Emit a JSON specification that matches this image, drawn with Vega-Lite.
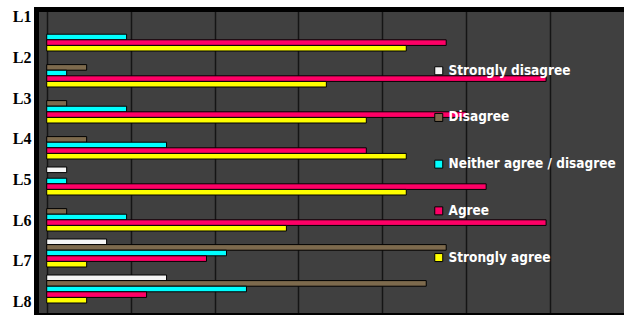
{
  "$schema": "https://vega.github.io/schema/vega-lite/v6.json",
  "width": 588,
  "height": 306,
  "autosize": {"type": "none"},
  "padding": {"left": 36, "top": 9, "right": 0, "bottom": 0},
  "background": "white",
  "config": {"view": {"fill": "#404040", "stroke": null}},
  "data": {
    "values": [
      {"item": "L1", "response": "Neither agree / disagree", "count": 4},
      {"item": "L1", "response": "Agree", "count": 20},
      {"item": "L1", "response": "Strongly agree", "count": 18},
      {"item": "L2", "response": "Disagree", "count": 2},
      {"item": "L2", "response": "Neither agree / disagree", "count": 1},
      {"item": "L2", "response": "Agree", "count": 25},
      {"item": "L2", "response": "Strongly agree", "count": 14},
      {"item": "L3", "response": "Disagree", "count": 1},
      {"item": "L3", "response": "Neither agree / disagree", "count": 4},
      {"item": "L3", "response": "Agree", "count": 21},
      {"item": "L3", "response": "Strongly agree", "count": 16},
      {"item": "L4", "response": "Disagree", "count": 2},
      {"item": "L4", "response": "Neither agree / disagree", "count": 6},
      {"item": "L4", "response": "Agree", "count": 16},
      {"item": "L4", "response": "Strongly agree", "count": 18},
      {"item": "L5", "response": "Strongly disagree", "count": 1},
      {"item": "L5", "response": "Neither agree / disagree", "count": 1},
      {"item": "L5", "response": "Agree", "count": 22},
      {"item": "L5", "response": "Strongly agree", "count": 18},
      {"item": "L6", "response": "Disagree", "count": 1},
      {"item": "L6", "response": "Neither agree / disagree", "count": 4},
      {"item": "L6", "response": "Agree", "count": 25},
      {"item": "L6", "response": "Strongly agree", "count": 12},
      {"item": "L7", "response": "Strongly disagree", "count": 3},
      {"item": "L7", "response": "Disagree", "count": 20},
      {"item": "L7", "response": "Neither agree / disagree", "count": 9},
      {"item": "L7", "response": "Agree", "count": 8},
      {"item": "L7", "response": "Strongly agree", "count": 2},
      {"item": "L8", "response": "Strongly disagree", "count": 6},
      {"item": "L8", "response": "Disagree", "count": 19},
      {"item": "L8", "response": "Neither agree / disagree", "count": 10},
      {"item": "L8", "response": "Agree", "count": 5},
      {"item": "L8", "response": "Strongly agree", "count": 2}
    ]
  },
  "layer": [
    {
      "mark": {"type": "bar", "stroke": "black", "strokeWidth": 1},
      "encoding": {
        "y": {
          "field": "item",
          "type": "nominal",
          "scale": {"type": "band", "domain": ["L1", "L2", "L3", "L4", "L5", "L6", "L7", "L8"], "paddingInner": 0, "paddingOuter": 0.25, "align": 0.556},
          "axis": null
        },
        "yOffset": {
          "field": "response",
          "type": "nominal",
          "scale": {"domain": ["Strongly disagree", "Disagree", "Neither agree / disagree", "Agree", "Strongly agree"], "paddingInner": 0, "paddingOuter": 0.714}
        },
        "x": {
          "field": "count",
          "type": "quantitative",
          "scale": {"domain": [-0.536, 28.9], "nice": false, "zero": false},
          "axis": {
            "orient": "top",
            "values": [0, 4.2, 8.4, 12.6, 16.8, 21, 25.2],
            "labels": false,
            "ticks": false,
            "title": null,
            "domainColor": "black",
            "domainWidth": 5,
            "domainCap": "square",
            "grid": true,
            "gridColor": "#151515",
            "gridWidth": 1.5
          }
        },
        "x2": {"datum": 0},
        "color": {
          "field": "response",
          "type": "nominal",
          "scale": {
            "domain": ["Strongly disagree", "Disagree", "Neither agree / disagree", "Agree", "Strongly agree"],
            "range": ["#F5F5F5", "#7D6A4D", "#00FFFF", "#FF0066", "#FFFF00"]
          },
          "legend": {
            "orient": "none",
            "legendX": 396,
            "legendY": 55,
            "title": null,
            "padding": 0,
            "rowPadding": 31.7,
            "symbolType": "square",
            "symbolSize": 64,
            "symbolStrokeColor": "black",
            "symbolStrokeWidth": 1,
            "symbolOpacity": 1,
            "labelColor": "white",
            "labelFont": "DejaVu Sans Condensed",
            "labelFontWeight": "bold",
            "labelFontSize": 13.5,
            "labelOffset": 3,
            "labelLimit": 300
          }
        }
      }
    },
    {
      "mark": {"type": "tick", "opacity": 0},
      "encoding": {
        "y": {
          "field": "item",
          "type": "nominal",
          "scale": {"type": "point", "domain": ["L1", "L2", "L3", "L4", "L5", "L6", "L7", "L8"], "padding": 0.258, "align": 0.367},
          "axis": {
            "orient": "left",
            "title": null,
            "ticks": false,
            "labelPadding": 5,
            "labelFont": "Liberation Serif",
            "labelFontWeight": "bold",
            "labelFontSize": 16,
            "labelColor": "black",
            "domainColor": "black",
            "domainWidth": 5,
            "domainCap": "square",
            "grid": false
          }
        },
        "x": {
          "field": "count",
          "type": "quantitative",
          "axis": {
            "orient": "bottom",
            "labels": false,
            "ticks": false,
            "grid": false,
            "title": null,
            "domainColor": "black",
            "domainWidth": 5
          }
        }
      }
    }
  ],
  "resolve": {"scale": {"y": "independent"}, "axis": {"x": "independent"}}
}
